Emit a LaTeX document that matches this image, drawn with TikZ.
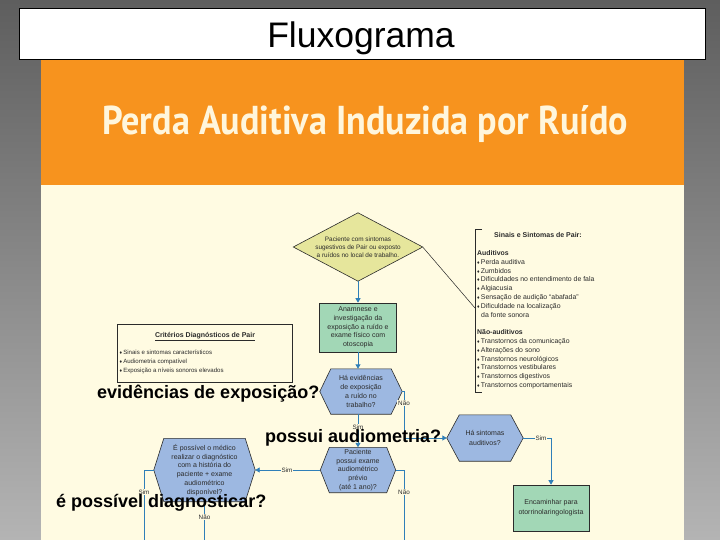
\documentclass[tikz,border=0pt]{standalone}
\usepackage{fontspec}
\setmainfont{Liberation Sans}
\newfontfamily\ttlfont{PT Sans}
\usetikzlibrary{arrows.meta}
\pgfdeclarelayer{shp}
\pgfsetlayers{shp,main}
\definecolor{bgtop}{HTML}{5E5E5E}
\definecolor{bgbot}{HTML}{B4B4B4}
\definecolor{cream}{HTML}{FFFBE2}
\definecolor{orng}{HTML}{F7931E}
\definecolor{ttltext}{HTML}{FFF6DC}
\definecolor{khaki}{HTML}{E6E69C}
\definecolor{mint}{HTML}{A2D7B6}
\definecolor{hexblue}{HTML}{9DB8E1}
\definecolor{flow}{HTML}{2F7FB8}
\definecolor{ink}{HTML}{2B2B2B}
\newcommand\dmd{{\fontsize{5}{6}\selectfont ♦}\,}
\tikzset{
  txt/.style={font=\fontsize{7}{8.8}\selectfont, text=ink, align=center, inner sep=0pt},
  hexa/.style={txt, rectangle},
  gbox/.style={txt, rectangle, draw=ink, fill=mint, line width=0.6pt},
  flowline/.style={draw=flow, line width=0.9pt},
  arr/.style={flowline, -{Triangle[length=4.5pt,width=5pt]}},
  lbl/.style={fill=cream, inner sep=0.8pt, font=\fontsize{6.3}{7}\selectfont, text=ink},
  sgn/.style={anchor=base west, inner sep=0pt, font=\fontsize{6.9}{8}\selectfont, text=ink},
  crt/.style={anchor=base west, inner sep=0pt, font=\fontsize{6.1}{7}\selectfont, text=ink},
  big/.style={anchor=base west, inner sep=0pt, font=\fontsize{18}{18}\selectfont\bfseries, text=black},
}
\begin{document}
\begin{tikzpicture}[x=1pt,y=-1pt]
\useasboundingbox (0,0) rectangle (720,540);
\begin{pgfonlayer}{shp}
  \shade[top color=bgtop, bottom color=bgbot] (0,0) rectangle (720,540);
  \fill[orng] (41,60) rectangle (684,185);
  \fill[cream] (41,185) rectangle (684,540);
  \filldraw[fill=white, draw=black, line width=1pt] (19,9) rectangle (705,60);
\end{pgfonlayer}

% titles
\node[anchor=base, inner sep=0pt, font=\fontsize{35.5}{36}\selectfont] (flx) at (361,48) {Fluxograma};
\node[anchor=base west, inner sep=0pt, text=ttltext] (ttl) at (102,135)
  {\resizebox{526pt}{29pt}{\ttlfont\bfseries Perda Auditiva Induzida por Ruído}};

% flow nodes
\node[txt, rectangle, minimum width=129pt, minimum height=68pt, font=\fontsize{6.4}{8}\selectfont] (dia) at (358,247)
  {Paciente com sintomas\\sugestivos de Pair ou exposto\\a ruídos no local de trabalho.};
\node[gbox, minimum width=77pt, minimum height=49pt] (ana) at (358,327.5)
  {Anamnese e\\investigação da\\exposição a ruído e\\exame físico com\\otoscopia};
\node[hexa, minimum width=82pt, minimum height=45pt] (h1) at (361,391.5)
  {Há evidências\\de exposição\\a ruído no\\trabalho?};
\node[hexa, minimum width=75pt, minimum height=45pt] (h2) at (358,470)
  {Paciente\\possui exame\\audiométrico\\prévio\\(até 1 ano)?};
\node[hexa, minimum width=101pt, minimum height=63pt] (h3) at (204.5,470)
  {É possível o médico\\realizar o diagnóstico\\com a história do\\paciente + exame\\audiométrico\\disponível?};
\node[hexa, minimum width=76pt, minimum height=46pt, font=\fontsize{7}{10}\selectfont] (h4) at (485,438)
  {Há sintomas\\auditivos?};
\node[gbox, minimum width=76pt, minimum height=46pt, font=\fontsize{7}{10}\selectfont] (enc) at (551,508)
  {Encaminhar para\\otorrinolaringologista};

\begin{pgfonlayer}{shp}
  \filldraw[fill=khaki, draw=ink, line width=0.6pt] (dia.north) -- (dia.east) -- (dia.south) -- (dia.west) -- cycle;
  \foreach \n/\o in {h1/11,h2/9,h3/10,h4/12.5}{
    \filldraw[fill=hexblue, draw=ink, line width=0.6pt]
      ([xshift=\o pt]\n.north west) -- ([xshift=-\o pt]\n.north east) -- (\n.east)
      -- ([xshift=-\o pt]\n.south east) -- ([xshift=\o pt]\n.south west) -- (\n.west) -- cycle;
  }
\end{pgfonlayer}

% criteria box
\node[draw=ink, line width=0.6pt, rectangle, minimum width=175pt, minimum height=58pt, inner sep=0pt] (crit) at (204.5,353) {};
\node[anchor=base, inner sep=0pt, font=\fontsize{7}{8}\selectfont\bfseries, text=ink] (critt) at (205,337.5) {\underline{Critérios Diagnósticos de Pair}};
\node[crt] (c1) at (119.5,354.5) {\dmd Sinais e sintomas característicos};
\node[crt] (c2) at (119.5,363) {\dmd Audiometria compatível};
\node[crt] (c3) at (119.5,372.5) {\dmd Exposição a níveis sonoros elevados};

% signs bracket and list
\draw[ink, line width=0.8pt] (482,229) -- (475,229) -- (475,392) -- (482,392);
\coordinate (brk) at (475,308);
\node[anchor=base, inner sep=0pt, font=\fontsize{7}{8}\selectfont\bfseries, text=ink] (sgt) at (538,237.5) {Sinais e Sintomas de Pair:};
\foreach \t [count=\i from 0] in {{\textbf{Auditivos}},\dmd Perda auditiva,\dmd Zumbidos,\dmd Dificuldades no entendimento de fala,\dmd Algiacusia,\dmd Sensação de audição “abafada”,\dmd Dificuldade na localização,\hspace{4pt}da fonte sonora,{},{\textbf{Não-auditivos}},\dmd Transtornos da comunicação,\dmd Alterações do sono,\dmd Transtornos neurológicos,\dmd Transtornos vestibulares,\dmd Transtornos digestivos,\dmd Transtornos comportamentais}
  \node[sgn] (s\i) at (477,255.5+8.8*\i) {\t};

% connectors
\draw[ink, line width=0.5pt] (dia.east) -- (brk);
\draw[arr] (dia.south) -- (ana.north);
\draw[arr] (ana.south) -- (ana.south |- h1.north);
\draw[arr] (h1.south -| h2.north) -- (h2.north);
\coordinate (n1) at (404,391.5);
\draw[arr] (h1.east) -- (n1) |- (h4.west);
\draw[arr] (h2.west) -- (h3.east);
\coordinate (n2) at (404,470);
\coordinate (n2e) at (404,540);
\draw[flowline] (h2.east) -- (n2) -- (n2e);
\coordinate (n3) at (144,470);
\coordinate (n3e) at (144,540);
\draw[flowline] (h3.west) -- (n3) -- (n3e);
\coordinate (n4e) at (204.5,540);
\draw[flowline] (h3.south) -- (n4e);
\draw[arr] (h4.east) -| (enc.north);

% labels
\node[lbl] (l1) at (404,403) {Não};
\node[lbl] (l2) at (358,427) {Sim};
\node[lbl] (l3) at (287,470) {Sim};
\node[lbl] (l4) at (404,492) {Não};
\node[lbl] (l5) at (144,492) {Sim};
\node[lbl] (l6) at (204.5,517) {Não};
\node[lbl] (l7) at (541,438) {Sim};

% overlay questions
\node[big] (q1) at (97,398) {evidências de exposição?};
\node[big] (q2) at (265,442) {possui audiometria?};
\node[big] (q3) at (56,507) {é possível diagnosticar?};
\end{tikzpicture}
\end{document}
